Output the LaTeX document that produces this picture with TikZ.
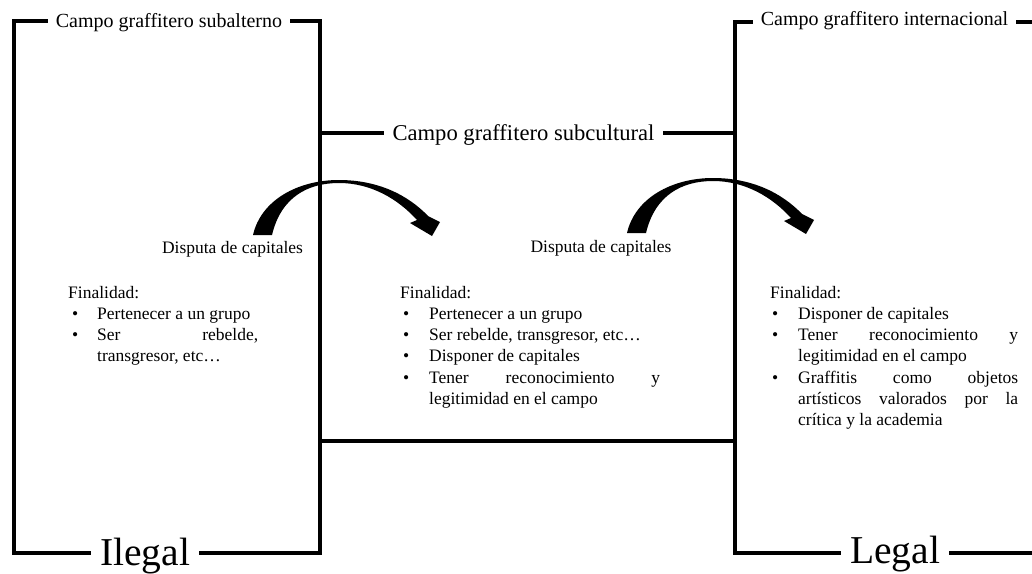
\documentclass[tikz,border=0pt]{standalone}
\usepackage{fontspec}
\setmainfont{Liberation Serif}
\newlength\lind
\newlength\bind
\newcommand\bitem[1]{\par\noindent\hangindent=\lind\hangafter=1\makebox[\lind][l]{\hspace{\bind}\textbullet}#1}
\newcommand\listsetup[2]{\setlength\lind{#1}\setlength\bind{#2}\hyphenpenalty=10000 \exhyphenpenalty=10000 \lefthyphenmin=64 \tolerance=10000 \hbadness=10000 \emergencystretch=0pt }
\begin{document}
\begin{tikzpicture}[x=1pt,y=-1pt,
  frame/.style={line width=4pt, line join=miter, line cap=rect},
  titl/.style={anchor=base, inner xsep=10pt, inner ysep=0pt, font=\fontsize{20}{24}\selectfont},
  bigl/.style={anchor=base, inner xsep=11pt, inner ysep=0pt, font=\fontsize{39.5}{46}\selectfont},
  lbl/.style={anchor=base, inner sep=0pt, font=\fontsize{17.5}{21}\selectfont},
  listbox/.style={anchor=north west, inner sep=0pt, align=justify, font=\fontsize{17.5}{21.2}\selectfont},
  curvearrow/.pic={\fill[black] (0,0) .. controls (8,-35) and (45,-55) .. (86,-55)
      .. controls (125,-55) and (155,-40) .. (175,-19) -- (187,-13) -- (179,1) -- (157,-12) -- (164,-15)
      .. controls (145,-36) and (118,-52) .. (86,-52) .. controls (55,-52) and (28,-38) .. (19,0) -- cycle;}
]
\useasboundingbox (0,0) rectangle (1032,573);
\clip (0,0) rectangle (1032,573);

% corner coordinates
\coordinate (L1) at (14,21);
\coordinate (L2) at (14,553);
\coordinate (L3) at (320,553);
\coordinate (L4) at (320,21);
\coordinate (R1) at (735,22);
\coordinate (R2) at (735,553);
\coordinate (RE1) at (1045,22);
\coordinate (RE2) at (1045,553);
\coordinate (M1) at (320,132.5);
\coordinate (M2) at (735,132.5);
\coordinate (B1) at (320,441);
\coordinate (B2) at (735,441);

% labels on frames
\node[titl] (sub) at (169,27) {Campo graffitero subalterno};
\node[titl] (intl) at (884.5,25) {Campo graffitero internacional};
\node[titl, font=\fontsize{22.6}{26}\selectfont] (subc) at (523.5,140) {Campo graffitero subcultural};
\node[bigl] (ileg) at (145,565) {Ilegal};
\node[bigl] (leg) at (895,563) {Legal};

% frames
\draw[frame] (L1 -| sub.west) -- (L1) -- (L2) -- (L2 -| ileg.west);
\draw[frame] (ileg.east |- L3) -- (L3) -- (L4) -- (sub.east |- L4);
\draw[frame] (R1 -| intl.west) -- (R1) -- (R2) -- (R2 -| leg.west);
\draw[frame] (leg.east |- R2) -- (RE2);
\draw[frame] (intl.east |- R1) -- (RE1);
\draw[frame] (M1) -- (M1 -| subc.west);
\draw[frame] (subc.east |- M2) -- (M2);
\draw[frame] (B1) -- (B2);

% curved arrows
\pic (arrA) at (253,235) {curvearrow};
\pic (arrB) at (627,233) {curvearrow};

\node[lbl] (disA) at (232.5,253) {Disputa de capitales};
\node[lbl] (disB) at (601,252) {Disputa de capitales};

% lists
\node[listbox, text width=190pt] (listA) at (68,286) {\listsetup{29pt}{4pt}%
Finalidad:
\bitem{Pertenecer a un grupo}
\bitem{Ser rebelde,\linebreak transgresor, etc…}\par};

\node[listbox, text width=260pt] (listB) at (400,286) {\listsetup{29pt}{3pt}%
Finalidad:
\bitem{Pertenecer a un grupo}
\bitem{Ser rebelde, transgresor, etc…}
\bitem{Disponer de capitales}
\bitem{Tener reconocimiento y\linebreak legitimidad en el campo}\par};

\node[listbox, text width=248pt] (listC) at (770,286) {\listsetup{28pt}{2pt}%
Finalidad:
\bitem{Disponer de capitales}
\bitem{Tener reconocimiento y\linebreak legitimidad en el campo}
\bitem{Graffitis como objetos\linebreak artísticos valorados por la\linebreak crítica y la academia}\par};
\end{tikzpicture}
\end{document}
